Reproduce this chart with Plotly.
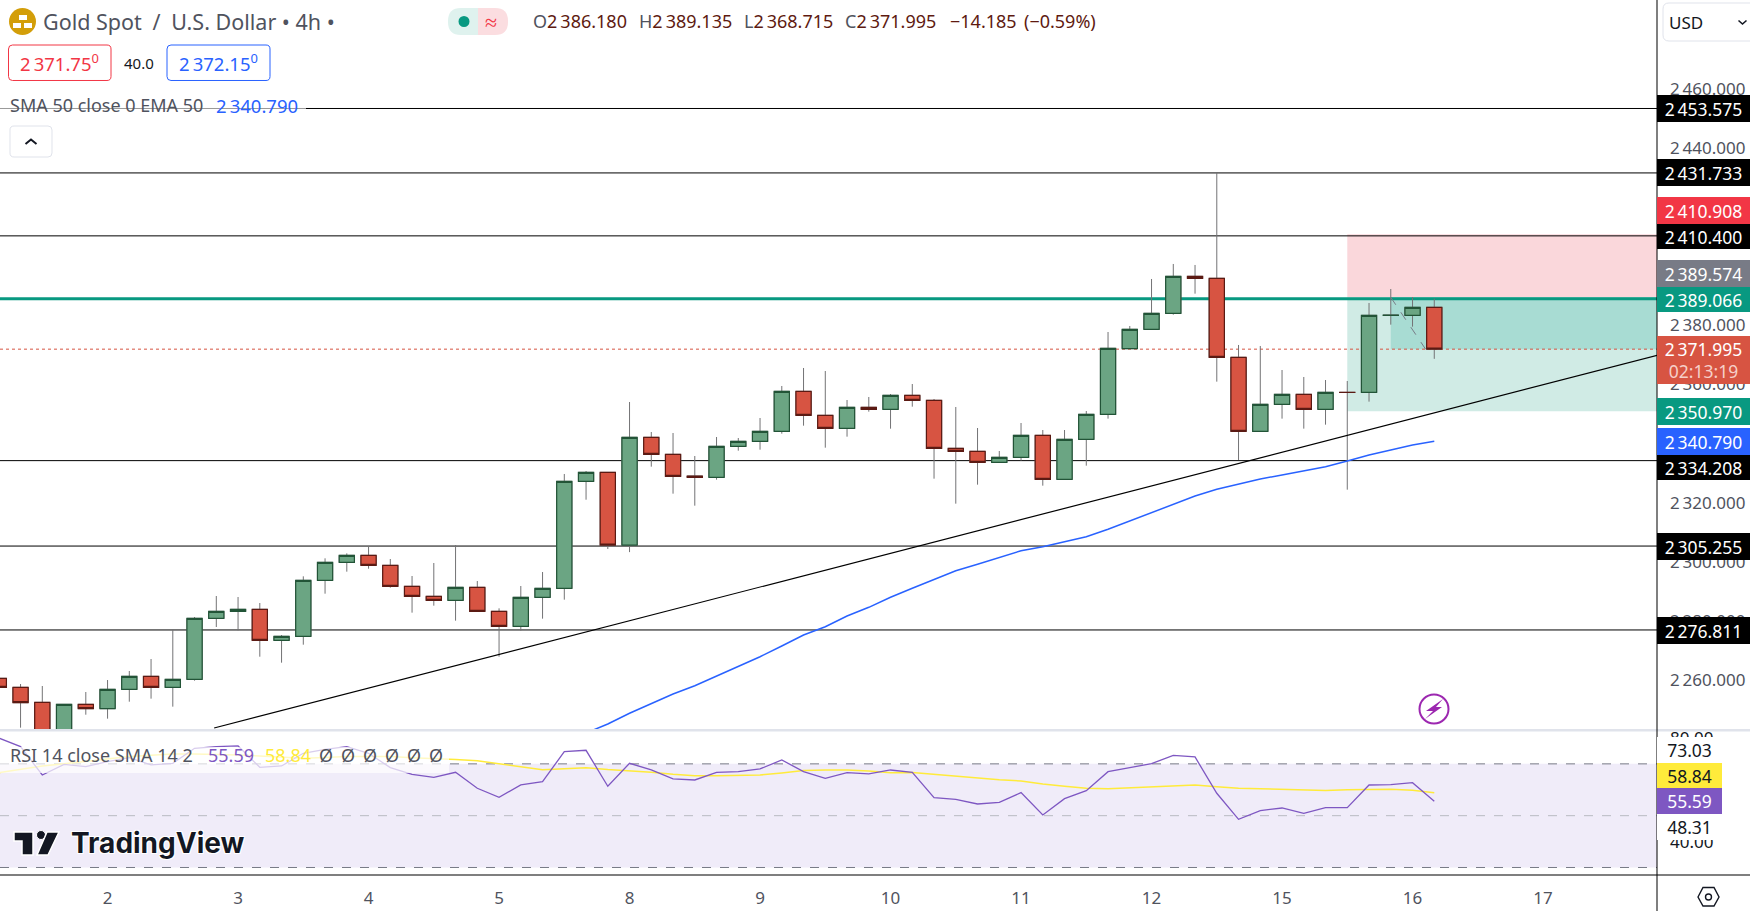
import plotly.graph_objects as go

# Page and pane geometry, in pixels of the screenshot
WIDTH = 1750
HEIGHT = 911
AXIS_X = 1657
MAIN_BOTTOM = 730
RSI_TOP = 732
RSI_BOTTOM = 875
FONT = "Noto Sans"
GREY = "#50535E"

# 4h candles, one value per bar
opens = [
    2260.41, 2257.36, 2252.27, 2240.5, 2251.6, 2250.13, 2256.68, 2261.09, 2257.36, 2260.07,
    2280.75, 2283.12, 2283.8, 2273.29, 2274.65, 2293.63, 2299.73, 2302.1, 2298.71, 2291.6,
    2288.21, 2286.85, 2291.26, 2283.12, 2278.04, 2287.87, 2290.92, 2327.19, 2330.24, 2305.6,
    2342.11, 2336.34, 2329.0, 2328.55, 2339.05, 2340.75, 2344.14, 2357.7, 2349.56, 2345.16,
    2352.28, 2351.6, 2356.34, 2354.65, 2338.38, 2337.36, 2333.63, 2335.33, 2342.78, 2327.87,
    2341.43, 2349.91, 2372.17, 2378.72, 2384.14, 2396.68, 2396.01, 2369.23, 2344.14, 2353.3,
    2356.68, 2351.6, 2357.36, 2357.36, 2383.46, 2383.46, 2386.18,
]
highs = [
    2263.57, 2258.49, 2257.81, 2251.6, 2255.78, 2259.84, 2262.9, 2266.96, 2277.13, 2281.2,
    2288.32, 2287.98, 2285.95, 2275.1, 2294.99, 2301.09, 2302.78, 2305.16, 2300.86, 2295.1,
    2299.51, 2305.61, 2293.4, 2284.14, 2291.71, 2296.45, 2329.68, 2330.69, 2330.24, 2354.08,
    2343.91, 2343.57, 2335.78, 2342.22, 2341.88, 2348.66, 2359.51, 2365.61, 2364.59, 2354.76,
    2355.78, 2356.79, 2360.18, 2355.1, 2352.39, 2345.27, 2337.47, 2346.96, 2344.59, 2344.59,
    2351.03, 2377.81, 2379.85, 2395.78, 2400.87, 2400.53, 2431.733, 2373.41, 2373.07, 2364.93,
    2362.56, 2361.54, 2361.2, 2387.65, 2392.39, 2389.68, 2389.135,
]
lows = [
    2255.89, 2243.69, 2238.0, 2238.0, 2248.09, 2246.74, 2252.5, 2253.52, 2250.81, 2259.62,
    2277.81, 2276.68, 2267.75, 2265.72, 2271.82, 2289.11, 2296.57, 2297.58, 2291.14, 2282.67,
    2285.04, 2279.96, 2283.12, 2267.75, 2276.57, 2280.64, 2287.08, 2320.97, 2304.25, 2303.2,
    2332.16, 2323.01, 2318.94, 2327.76, 2337.59, 2337.92, 2343.35, 2346.06, 2338.6, 2342.33,
    2350.81, 2345.04, 2352.5, 2328.09, 2319.62, 2326.06, 2333.63, 2334.2, 2325.72, 2327.87,
    2332.5, 2348.44, 2372.17, 2378.72, 2383.69, 2390.81, 2360.98, 2334.43, 2344.14, 2348.44,
    2345.05, 2346.4, 2324.37, 2354.2, 2380.3, 2379.62, 2368.715,
]
closes = [
    2257.36, 2252.16, 2240.0, 2251.6, 2250.13, 2256.68, 2261.09, 2257.36, 2260.07, 2280.75,
    2283.12, 2283.8, 2273.29, 2274.65, 2293.63, 2299.73, 2302.1, 2298.71, 2291.6, 2288.21,
    2286.85, 2291.26, 2283.12, 2278.04, 2287.87, 2290.92, 2327.19, 2330.24, 2305.6, 2342.11,
    2336.34, 2328.89, 2328.55, 2339.05, 2340.75, 2344.14, 2357.7, 2349.56, 2345.16, 2352.28,
    2351.6, 2356.34, 2354.65, 2338.38, 2337.36, 2333.63, 2335.33, 2342.78, 2327.87, 2341.43,
    2349.9, 2372.28, 2378.72, 2384.14, 2396.68, 2396.01, 2369.23, 2344.14, 2353.3, 2356.68,
    2351.6, 2357.36, 2357.3, 2383.46, 2383.5, 2386.18, 2371.995,
]

# EMA 50 starts off the bottom of the pane, at this bar
ema_start = 27
ema50 = [
    2241.88, 2244.93, 2248.56, 2251.71, 2255.1, 2257.91, 2261.2, 2264.35, 2267.74, 2271.37,
    2275.1, 2277.91, 2281.54, 2284.49, 2287.88, 2290.93, 2293.98, 2296.89, 2299.06, 2301.3,
    2303.67, 2305.03, 2306.72, 2308.42, 2310.93, 2313.74, 2316.35, 2319.16, 2322.21, 2324.49,
    2326.18, 2327.98, 2329.33, 2330.69, 2332.15, 2334.08, 2336.11, 2337.81, 2339.5, 2340.79,
]

rsi = [
    80.0, 76.65, 65.71, 69.83, 68.93, 70.86, 72.41, 69.58, 70.22, 76.01,
    76.65, 76.91, 68.67, 69.19, 74.08, 75.62, 76.65, 74.08, 68.55, 65.97,
    64.81, 66.74, 60.57, 57.09, 61.85, 63.14, 74.72, 75.24, 61.34, 70.22,
    67.64, 64.17, 63.78, 66.75, 67.0, 68.03, 71.51, 67.0, 64.43, 66.62,
    66.1, 67.64, 66.74, 56.96, 56.32, 54.52, 55.16, 58.89, 50.27, 56.58,
    59.67, 67.0, 68.55, 70.09, 73.31, 72.66, 58.64, 48.6, 51.95, 52.97,
    50.91, 53.1, 53.1, 61.85, 61.98, 62.75, 55.59,
]
rsi_sma = [
    66.6, 67.9, 69.2, 70.0, 70.9, 71.8, 72.8, 73.3, 73.8, 73.8,
    73.7, 73.4, 73.05, 72.6, 72.15, 72.5, 72.8, 72.8, 72.8, 72.4,
    72.15, 71.7, 71.2, 70.0, 68.7, 67.7, 68.1, 68.5, 67.8, 67.4,
    66.8, 66.0, 65.4, 65.4, 65.6, 65.7, 66.5, 67.4, 67.6, 67.65,
    67.2, 66.6, 66.7, 66.0, 65.3, 64.4, 63.9, 63.4, 62.2, 61.4,
    60.6, 60.4, 60.7, 61.0, 61.4, 61.85, 61.2, 60.6, 60.4, 60.2,
    59.9, 59.7, 60.0, 60.2, 60.2, 59.8, 58.84,
]

# Time axis
day_bars = [5, 11, 17, 23, 29, 35, 41, 47, 53, 59, 65, 71]
day_labels = ["2", "3", "4", "5", "8", "9", "10", "11", "12", "15", "16", "17"]
x_range = [0.055, 76.24]

# Price and RSI axes
price_range = [2242.9, 2490.35]
price_ticks = [2260, 2280, 2300, 2320, 2340, 2360, 2380, 2400, 2420, 2440, 2460]
rsi_range = [27.1, 82.3]
rsi_ticks = [40, 80]
rsi_bands = [70, 50, 30]

# Drawn levels
black_levels = [2453.575, 2431.733, 2410.4, 2334.208, 2305.255, 2276.811]
green_level = 2389.066
last_price = 2371.995
stop_price = 2410.908
entry_price = 2389.574
target_price = 2350.97
position_start = 62
filled_start = 64
trend_x = [9.9, 76.25]
trend_y = [2243.58, 2369.9]
move_x = [64, 65.6]
move_y = [2389.574, 2371.995]


def thin(value, decimals=3):
    return f"{value:,.{decimals}f}".replace(",", "\u2009")


def fx(x):
    return x / WIDTH


def fy(y):
    return 1 - y / HEIGHT


def add_text(fig, x, y, text, size=18, color=GREY, anchor="left", family=FONT, **kwargs):
    fig.add_annotation(
        x=fx(x), y=fy(y), xref="paper", yref="paper", text=text, showarrow=False,
        xanchor=anchor, yanchor="middle", borderpad=0,
        font=dict(family=family, size=size, color=color, **kwargs.pop("font", {})),
        **kwargs,
    )


def add_tag(fig, y0, y1, text, bg, color="white", x0=AXIS_X, x1=WIDTH, size=17.5):
    # Coloured label on the price scale
    fig.add_annotation(
        x=fx(x0), y=fy((y0 + y1) / 2), xref="paper", yref="paper", text=text,
        showarrow=False, xanchor="left", yanchor="middle", borderpad=0, borderwidth=0,
        width=x1 - x0, height=y1 - y0, bgcolor=bg, align="center", valign="middle",
        font=dict(family=FONT, size=size, color=color),
    )


def poly(points, close=True):
    path = "M" + " L".join(f"{fx(x):.5f},{fy(y):.5f}" for x, y in points)
    return path + (" Z" if close else "")


def rounded(x0, y0, x1, y1, r, left=True, right=True):
    p = []
    if left:
        p += [f"M{fx(x0 + r):.5f},{fy(y0):.5f}"]
    else:
        p += [f"M{fx(x0):.5f},{fy(y0):.5f}"]
    if right:
        p += [f"L{fx(x1 - r):.5f},{fy(y0):.5f}",
              f"Q{fx(x1):.5f},{fy(y0):.5f} {fx(x1):.5f},{fy(y0 + r):.5f}",
              f"L{fx(x1):.5f},{fy(y1 - r):.5f}",
              f"Q{fx(x1):.5f},{fy(y1):.5f} {fx(x1 - r):.5f},{fy(y1):.5f}"]
    else:
        p += [f"L{fx(x1):.5f},{fy(y0):.5f}", f"L{fx(x1):.5f},{fy(y1):.5f}"]
    if left:
        p += [f"L{fx(x0 + r):.5f},{fy(y1):.5f}",
              f"Q{fx(x0):.5f},{fy(y1):.5f} {fx(x0):.5f},{fy(y1 - r):.5f}",
              f"L{fx(x0):.5f},{fy(y0 + r):.5f}",
              f"Q{fx(x0):.5f},{fy(y0):.5f} {fx(x0 + r):.5f},{fy(y0):.5f}"]
    else:
        p += [f"L{fx(x0):.5f},{fy(y1):.5f}"]
    return " ".join(p) + " Z"


def add_path(fig, path, fill=None, line=None, width=1, layer="above"):
    fig.add_shape(
        type="path", path=path, xref="paper", yref="paper", layer=layer,
        fillcolor=fill if fill else "rgba(0,0,0,0)",
        line=dict(color=line if line else "rgba(0,0,0,0)", width=width if line else 0),
    )


def add_box(fig, x0, y0, x1, y1, fill, opacity=1, layer="above"):
    fig.add_shape(
        type="rect", xref="paper", yref="paper", x0=fx(x0), x1=fx(x1), y0=fy(y0), y1=fy(y1),
        fillcolor=fill, opacity=opacity, line_width=0, layer=layer,
    )


def add_circle(fig, cx, cy, r, fill=None, line=None, width=1):
    fig.add_shape(
        type="circle", xref="paper", yref="paper",
        x0=fx(cx - r), x1=fx(cx + r), y0=fy(cy - r), y1=fy(cy + r),
        fillcolor=fill if fill else "rgba(0,0,0,0)",
        line=dict(color=line if line else "rgba(0,0,0,0)", width=width if line else 0),
    )


def add_level(fig, price, color, width=1, dash="solid"):
    fig.add_shape(
        type="line", xref="x", yref="y", x0=x_range[0], x1=x_range[1], y0=price, y1=price,
        line=dict(color=color, width=width, dash=dash), layer="below",
    )


def add_zone(fig, x0, y0, y1, fill):
    fig.add_shape(
        type="rect", xref="x", yref="y", x0=x0, x1=x_range[1], y0=y0, y1=y1,
        fillcolor=fill, line_width=0, layer="below",
    )


bars = list(range(len(closes)))
fig = go.Figure()

# Position tool and levels sit behind the candles
add_zone(fig, position_start, entry_price, stop_price, "#FAD7DB")
add_zone(fig, position_start, target_price, entry_price, "#D0EBE5")
add_zone(fig, filled_start, last_price, entry_price, "#A8DCD3")
for level in black_levels:
    add_level(fig, level, "#000000")
add_level(fig, green_level, "#089981", width=3)
add_level(fig, last_price, "#D75442", dash="dot")

# RSI background and bands
fig.add_shape(
    type="rect", xref="x", yref="y2", x0=x_range[0], x1=x_range[1],
    y0=rsi_bands[2], y1=rsi_bands[0], fillcolor="#F0ECF9", line_width=0, layer="below",
)
for band, band_color in zip(rsi_bands, ["#787B86", "#B8BAC2", "#787B86"]):
    fig.add_shape(
        type="line", xref="x", yref="y2", x0=x_range[0], x1=x_range[1], y0=band, y1=band,
        line=dict(color=band_color, width=1, dash="dash"), layer="below",
    )

fig.add_trace(go.Scatter(
    x=trend_x, y=trend_y, mode="lines", line=dict(color="#000000", width=1.2),
    yaxis="y", hoverinfo="skip",
))

# Two candlestick traces: grey wicks first, then outlined bodies on top
fig.add_trace(go.Candlestick(
    x=bars, open=opens, high=highs, low=lows, close=closes, whiskerwidth=0,
    increasing=dict(line=dict(color="#737375", width=1), fillcolor="#737375"),
    decreasing=dict(line=dict(color="#737375", width=1), fillcolor="#737375"),
    yaxis="y",
))
fig.add_trace(go.Candlestick(
    x=bars, open=opens, close=closes,
    high=[max(o, c) for o, c in zip(opens, closes)],
    low=[min(o, c) for o, c in zip(opens, closes)],
    whiskerwidth=0,
    increasing=dict(line=dict(color="#225437", width=1.2), fillcolor="#6BA583"),
    decreasing=dict(line=dict(color="#5B1A13", width=1.2), fillcolor="#D75442"),
    yaxis="y",
))
fig.add_trace(go.Scatter(
    x=list(range(ema_start, ema_start + len(ema50))), y=ema50, mode="lines",
    line=dict(color="#2962FF", width=1.5), yaxis="y",
))
fig.add_trace(go.Scatter(
    x=move_x, y=move_y, mode="lines", line=dict(color="#787B86", width=1, dash="dash"),
    yaxis="y",
))
fig.add_trace(go.Scatter(
    x=bars, y=rsi_sma, mode="lines", line=dict(color="#FFEB3B", width=1.5), yaxis="y2",
))
fig.add_trace(go.Scatter(
    x=bars, y=rsi, mode="lines", line=dict(color="#7E57C2", width=1.3), yaxis="y2",
))

fig.update_layout(
    width=WIDTH, height=HEIGHT, margin=dict(l=0, r=0, t=0, b=0, pad=0),
    paper_bgcolor="white", plot_bgcolor="white", showlegend=False, boxgap=0.0,
    font=dict(family=FONT, size=16, color=GREY),
    xaxis=dict(
        domain=[0, fx(AXIS_X)], range=x_range, anchor="y2", tickmode="array",
        tickvals=day_bars, ticktext=day_labels, showgrid=False, zeroline=False,
        rangeslider=dict(visible=False), ticks="", ticklabelstandoff=11, automargin=False,
        tickfont=dict(family=FONT, size=17, color=GREY),
    ),
    yaxis=dict(
        domain=[fy(MAIN_BOTTOM), 1], range=price_range, side="right", anchor="x",
        tickmode="array", tickvals=price_ticks, ticktext=[thin(t) for t in price_ticks],
        showgrid=False, zeroline=False, ticks="", ticklabelstandoff=12, automargin=False,
        tickfont=dict(family=FONT, size=17, color=GREY),
    ),
    yaxis2=dict(
        domain=[fy(RSI_BOTTOM), fy(RSI_TOP)], range=rsi_range, side="right", anchor="x",
        tickmode="array", tickvals=rsi_ticks, ticktext=[f"{t:.2f}" for t in rsi_ticks],
        showgrid=False, zeroline=False, ticks="", ticklabelstandoff=12, automargin=False,
        tickfont=dict(family=FONT, size=17, color="#131722"),
    ),
)

# Frame of the panes
add_box(fig, 0, 729, WIDTH, 731.5, "#E0E3EB")
add_box(fig, AXIS_X - 0.5, 0, AXIS_X + 0.5, HEIGHT, "#000000")
add_box(fig, 0, RSI_BOTTOM - 0.5, WIDTH, RSI_BOTTOM + 0.5, "#000000")

# Price scale tags
add_tag(fig, 95, 122, thin(2453.575), "#000000")
add_tag(fig, 159, 186, thin(2431.733), "#000000")
add_tag(fig, 197, 224, thin(stop_price), "#F23645")
add_tag(fig, 224, 249, thin(2410.4), "#000000")
add_tag(fig, 260, 287, thin(entry_price), "#787B86")
add_tag(fig, 287, 312, thin(green_level), "#089981")
add_tag(fig, 336, 384, thin(last_price) + "<br><span style='color:#F6CFC9'>02:13:19</span>", "#D75442")
add_tag(fig, 398, 425, thin(target_price), "#089981")
add_tag(fig, 428, 455, thin(2340.79), "#2962FF")
add_tag(fig, 455, 480, thin(2334.208), "#000000")
add_tag(fig, 533, 560, thin(2305.255), "#000000")
add_tag(fig, 617, 644, thin(2276.811), "#000000")

# RSI scale tags
add_tag(fig, 737, 763, "73.03", "white", "#131722", x1=1722)
add_tag(fig, 763, 788.5, "58.84", "#FFEB3B", "#131722", x1=1722)
add_tag(fig, 788.5, 814, "55.59", "#7E57C2", "white", x1=1722)
add_tag(fig, 814, 840, "48.31", "white", "#131722", x1=1722)

# Header: symbol
add_circle(fig, 22.5, 21.5, 13.5, fill="#D39E09")
for x0, y0, x1, y1 in [(19, 15, 27, 20), (13, 23, 21, 28), (24, 23, 32, 28)]:
    add_box(fig, x0, y0, x1, y1, "white")
add_text(fig, 42, 21.5, "Gold Spot\u2002/\u2002U.S. Dollar • 4h •", size=21.5, color="#50535E")

# Header: market status pill
add_path(fig, rounded(478, 8, 508, 35, 13, left=False), fill="#FBDDE0")
add_path(fig, rounded(448, 8, 478, 35, 13, right=False), fill="#DFF2EE")
add_circle(fig, 464, 21.5, 5.5, fill="#089981")
add_text(fig, 491, 21, "≈", size=22, color="#F23645", anchor="center")

# Header: OHLC
OHLC_VALUE = "#5E1A10"
for x, letter, value in [(532, "O", 2386.18), (638, "H", 2389.135), (743, "L", 2368.715), (844, "C", last_price)]:
    add_text(fig, x, 21, f"{letter}<span style='color:{OHLC_VALUE}'>{thin(value)}</span>")
add_text(fig, 949, 21, "−14.185", color=OHLC_VALUE)
add_text(fig, 1023, 21, "(−0.59%)", color=OHLC_VALUE)

# Header: bid / ask
add_path(fig, rounded(8.5, 45, 111, 80.5, 4), fill="white", line="#F23645")
add_path(fig, rounded(167, 45, 270, 80.5, 4), fill="white", line="#2962FF")
add_text(fig, 59.5, 63, thin(2371.75, 2) + "<sup>0</sup>", size=18.5, color="#F23645", anchor="center")
add_text(fig, 218.5, 63, thin(2372.15, 2) + "<sup>0</sup>", size=18.5, color="#2962FF", anchor="center")
add_text(fig, 139, 63, "40.0", size=15, color="#131722", anchor="center")

# Moving average legend over a washed out background
add_box(fig, 0, 92, 306, 118, "white", opacity=0.6)
add_text(fig, 8.5, 105, "SMA 50 close 0 EMA 50")
add_text(fig, 215, 105, thin(2340.79), size=18.5, color="#2962FF")

# Collapse button
add_path(fig, rounded(10, 126, 52, 157, 4), fill="white", line="#E0E3EB")
add_path(fig, poly([(25.5, 144), (31, 139.5), (36.5, 144)], close=False), line="#131722", width=2)

# Currency button
add_path(fig, rounded(1663, 3, 1770, 41, 6), fill="white", line="#E0E3EB")
add_text(fig, 1668, 22, "USD", size=17, color="#131722")
add_path(fig, poly([(1738.5, 20.5), (1742.5, 24), (1746.5, 20.5)], close=False), line="#131722", width=1.6)

# RSI legend
add_box(fig, 0, 747, 449, 773, "white", opacity=0.7)
add_text(fig, 8.5, 755, "RSI 14 close SMA 14 2")
add_text(fig, 207, 755, "55.59", color="#7E57C2")
add_text(fig, 264, 755, "58.84", color="#FFEB3B")
for x in [326, 348, 370, 392, 414, 436]:
    add_text(fig, x, 755, "Ø", color="#50535E", anchor="center")

# Lightning icon
add_circle(fig, 1434, 709, 14.5, line="#9C27B0", width=2)
add_path(fig, poly([(1443, 699), (1426, 711), (1433, 711), (1425, 719), (1442, 707), (1436, 707)]), fill="#9C27B0")

# Settings icon
add_path(fig, poly([(1698, 897), (1703, 887.5), (1714, 887.5), (1719, 897), (1714, 906), (1703, 906)]), line="#131722", width=1.4)
add_circle(fig, 1708.5, 897, 3, line="#131722", width=1.4)

# Watermark
add_path(fig, poly([(14, 832), (33, 832), (33, 855), (22, 855), (22, 841), (14, 841)]), fill="#131722", line="white", width=1.5)
add_circle(fig, 41, 835, 4.5, fill="#131722", line="white", width=1)
add_path(fig, poly([(47, 832), (59, 832), (48, 855), (37, 855)]), fill="#131722", line="white", width=1.5)
add_text(
    fig, 69.5, 843, "TradingView", size=28, color="#131722", family="Inter",
    font=dict(weight=700, shadow="1px 1px 0 #fff, -1px -1px 0 #fff, 1px -1px 0 #fff, -1px 1px 0 #fff"),
)

fig.write_html(
    "out.html",
    config={"displayModeBar": False},
    post_script="document.body.style.margin='0';document.body.style.overflow='hidden';",
)
